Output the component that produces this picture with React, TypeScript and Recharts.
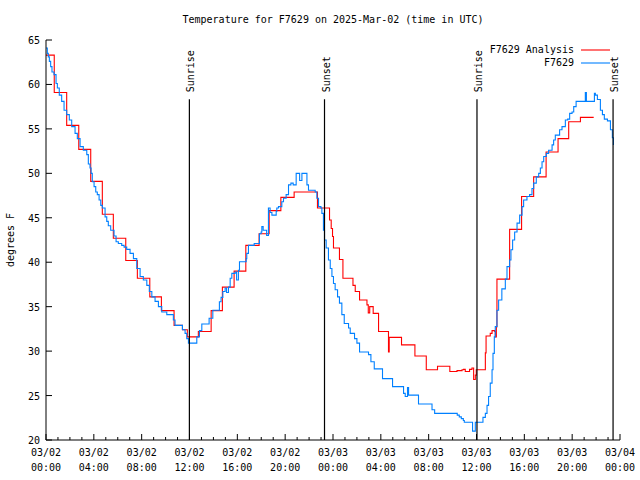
import React from "react";
import {
  LineChart, Line, XAxis, YAxis, ReferenceLine,
} from "recharts";

// hours since 03/02 00:00 UTC, temperature in F
const analysisHours = [
  0, 0.69, 1.73, 2.74, 3.74, 4.71, 5.63, 6.67, 7.64, 8.68, 9.65, 10.71, 11.41, 11.82,
  12.74, 13.81, 14.75, 15.73, 16.71, 17.82, 18.66, 19.64, 20.75, 22.7, 23.71, 23.85,
  23.96, 24.04, 24.54, 24.83, 25.67, 25.86, 26.22, 26.84, 26.95, 27.07, 27.36, 27.81,
  28.64, 28.7, 29.73, 30.85, 31.8, 32.74, 33.77, 34.37, 34.79, 34.92, 35.06, 35.42,
  35.62, 35.76, 35.9, 35.98, 36.74, 36.8, 37.15, 37.3, 37.52, 37.57, 37.66, 37.71,
  38.77, 39.77, 40.78, 41.82, 42.82, 43.71, 44.69, 45.8,
];
const analysisTemps = [
  63.3, 59.1, 55.4, 52.7, 49.1, 45.4, 42.7, 40.2, 38.2, 36.1, 34.55, 32.9, 32.4, 31.6,
  32.2, 34.55, 37.2, 39.0, 41.9, 43.2, 45.8, 47.3, 47.9, 46.1, 44.75, 43.8,
  42.9, 41.6, 40.3, 38.2, 37.4, 36.7, 35.75, 35.2, 34.3, 35.0, 34.25, 32.2,
  29.9, 31.55, 30.7, 29.45, 27.9, 28.3, 27.7, 27.8, 27.9, 27.95, 27.7, 27.95,
  28.1, 26.8, 27.3, 27.9, 29.8, 31.7, 32.0, 32.3, 32.2, 31.6, 32.75, 38.1,
  43.7, 47.4, 49.6, 52.4, 53.9, 55.8, 56.3, 56.3,
];

const obsHours = [
  0, 0.11, 0.19, 0.28, 0.39, 0.5, 0.67, 0.84, 0.95, 1.11, 1.31, 1.51, 1.73, 1.95, 2.15,
  2.43, 2.62, 2.85, 3.12, 3.41, 3.54, 3.68, 3.77, 3.87, 4.02, 4.16, 4.29, 4.44, 4.58,
  4.71, 4.94, 5.08, 5.21, 5.41, 5.69, 5.86, 6.05, 6.33, 6.53, 6.75, 7.03, 7.31, 7.59,
  7.87, 8.14, 8.43, 8.64, 8.85, 9.12, 9.4, 9.68, 10.1, 10.65, 10.79, 11.41, 11.63,
  11.77, 11.91, 12.61, 12.83, 13.03, 13.64, 13.95, 14.5, 14.64, 14.79, 14.98, 15.1,
  15.26, 15.4, 15.54, 15.82, 15.94, 16.09, 16.18, 16.74, 16.79, 16.93, 17.41, 17.85,
  17.99, 18.05, 18.16, 18.45, 18.6, 18.74, 18.89, 19.25, 19.3, 19.44, 19.72, 19.86,
  20.08, 20.28, 20.48, 20.67, 20.92, 21.21, 21.4, 21.82, 21.95, 22.51, 22.65, 22.79,
  22.99, 23.07, 23.2, 23.29, 23.43, 23.62, 23.77, 23.91, 24.04, 24.18, 24.38, 24.54,
  24.74, 24.94, 25.3, 25.44, 25.8, 26.0, 26.22, 26.97, 27.17, 27.45, 28.14, 28.98,
  29.9, 30.04, 30.23, 30.32, 31.15, 32.28, 32.5, 34.23, 34.39, 34.56, 34.73, 34.9,
  34.98, 35.67, 35.9, 36.54, 36.74, 36.88, 37.01, 37.15, 37.3, 37.38, 37.49, 37.57,
  37.71, 37.85, 38.12, 38.41, 38.55, 38.77, 38.88, 39.02, 39.19, 39.39, 39.61, 39.81,
  39.94, 40.22, 40.44, 40.64, 40.78, 41.0, 41.2, 41.34, 41.48, 41.62, 41.84, 42.03,
  42.32, 42.45, 42.59, 42.95, 43.15, 43.43, 43.62, 43.79, 43.99, 44.13, 44.33, 45.1,
  45.19, 45.86, 45.94, 46.11, 46.36, 46.53, 46.69, 46.95, 47.2, 47.36, 47.45,
];
const obsTemps = [
  64.1, 63.5, 63.1, 62.6, 62.0, 61.4, 61.1, 60.1, 59.6, 58.8, 58.1, 57.1, 56.6, 56.0, 55.25,
  54.5, 53.9, 53.0, 52.6, 52.1, 51.05, 50.6, 50.0, 49.06, 48.5, 47.9, 47.6, 47.0, 46.4,
  46.1, 45.1, 44.6, 44.1, 43.6, 42.95, 42.3, 42.1, 41.9, 41.7, 41.45, 41.0, 40.4, 39.3,
  38.4, 38.0, 37.4, 36.7, 36.1, 35.6, 35.0, 34.4, 34.1, 33.5, 32.9, 32.4, 32.0,
  31.4, 30.9, 31.6, 32.3, 33.05, 33.7, 34.6, 35.55, 36.05, 36.7, 37.1, 36.6,
  37.2, 38.2, 38.75, 38.9, 38.0, 39.1, 40.05, 40.4, 41.0, 41.9, 42.1, 43.2,
  43.4, 44.0, 43.6, 43.0, 46.1, 45.6, 45.3, 45.7, 46.1, 46.25, 46.8, 47.2,
  47.6, 48.7, 48.9, 48.7, 50.0, 49.2, 50.0, 48.7, 48.1, 47.9, 47.2, 46.25,
  46.1, 45.5, 43.6, 42.5, 41.6, 40.25, 39.3, 38.4, 37.6, 36.9, 36.1, 35.4,
  34.1, 33.1, 32.6, 32.0, 31.4, 30.9, 29.9, 29.6, 28.8, 28.0, 26.9, 26.0,
  25.25, 24.9, 25.9, 25.05, 24.05, 23.4, 23.0, 23.0, 22.8, 22.6, 22.4, 22.2,
  22.0, 21.0, 22.0, 22.55, 23.0, 23.9, 24.9, 26.4, 27.9, 29.75, 31.6, 32.75,
  34.6, 35.75, 37.0, 38.1, 39.5, 40.25, 41.4, 42.5, 43.4, 44.4, 45.3, 46.25,
  47.0, 47.4, 47.6, 48.3, 48.9, 49.6, 50.0, 50.6, 51.3, 51.9, 52.25, 52.6,
  53.2, 53.75, 54.3, 54.9, 55.25, 56.0, 56.1, 56.75, 56.9, 57.5, 58.1, 59.1,
  58.1, 59.0, 58.8, 58.3, 57.1, 56.6, 56.1, 55.9, 54.9, 54.0, 53.2,
];

const sunHours = [11.99, 23.29, 36.04, 47.42];
const sunNames = ["Sunrise", "Sunset", "Sunrise", "Sunset"];
const sunLineTop = 58.33;

const yTicks = [20, 25, 30, 35, 40, 45, 50, 55, 60, 65];
const hourTicks = Array.from({ length: 49 }, (_, i) => i);
const tickDates = ["03/02", "03/02", "03/02", "03/02", "03/02", "03/02", "03/03", "03/03", "03/03", "03/03", "03/03", "03/03", "03/04"];
const tickTimes = ["00:00", "04:00", "08:00", "12:00", "16:00", "20:00", "00:00", "04:00", "08:00", "12:00", "16:00", "20:00", "00:00"];

const seriesNames = ["F7629 Analysis", "F7629"];
const seriesColors = ["#ff0000", "#0080ff"];

const analysisData = analysisHours.map((h, i) => ({ h, temp: analysisTemps[i] }));
const obsData = obsHours.map((h, i) => ({ h, temp: obsTemps[i] }));

const FONT = "'DejaVu Sans Mono', monospace";

const BottomTick = (props: any) => {
  const { x, y, payload } = props;
  const v = payload.value;
  const major = v % 4 === 0;
  const k = v / 4;
  return (
    <g>
      <line x1={x} y1={y} x2={x} y2={y - (major ? 6 : 3)} stroke="#000" />
      {major && (
        <text x={x} y={y + 16} textAnchor="middle" fontFamily={FONT} fontSize={10} fill="#000">
          <tspan x={x}>{tickDates[k]}</tspan>
          <tspan x={x} dy={15}>{tickTimes[k]}</tspan>
        </text>
      )}
    </g>
  );
};

const TopTick = (props: any) => {
  const { x, y, payload } = props;
  const major = payload.value % 4 === 0;
  return <line x1={x} y1={y} x2={x} y2={y + (major ? 6 : 3)} stroke="#000" />;
};

const LeftTick = (props: any) => {
  const { x, y, payload } = props;
  return (
    <g>
      <line x1={x} y1={y} x2={x + 6} y2={y} stroke="#000" />
      <text x={x - 6} y={y + 4} textAnchor="end" fontFamily={FONT} fontSize={10} fill="#000">
        {payload.value}
      </text>
    </g>
  );
};

const RightTick = (props: any) => {
  const { x, y } = props;
  return <line x1={x} y1={y} x2={x - 6} y2={y} stroke="#000" />;
};

const SunLabel = (props: any) => {
  const { viewBox, text } = props;
  if (!viewBox) return null;
  const x = viewBox.x + 5;
  const y = viewBox.y - 7;
  return (
    <text x={x} y={y} transform={`rotate(-90 ${x} ${y})`} textAnchor="start" fontFamily={FONT} fontSize={10} fill="#000">
      {text}
    </text>
  );
};

export default function App() {
  return (
    <div style={{ position: "absolute", left: 0, top: 0, width: 640, height: 480, background: "#fff" }}>
      <LineChart width={640} height={480} margin={{ top: 40, right: 20, bottom: 0, left: 0 }}>
        <XAxis
          dataKey="h" type="number" domain={[0, 48]} ticks={hourTicks} interval={0}
          allowDataOverflow height={40} tickSize={0} tickMargin={0} tickLine={false}
          axisLine={{ stroke: "#000" }} tick={<BottomTick />}
        />
        <XAxis
          xAxisId="top" orientation="top" dataKey="h" type="number" domain={[0, 48]}
          ticks={hourTicks} interval={0} allowDataOverflow height={0} tickSize={0}
          tickMargin={0} tickLine={false} axisLine={{ stroke: "#000" }} tick={<TopTick />}
        />
        <YAxis
          type="number" domain={[20, 65]} ticks={yTicks} interval={0} allowDataOverflow
          width={46} tickSize={0} tickMargin={0} tickLine={false}
          axisLine={{ stroke: "#000" }} tick={<LeftTick />}
        />
        <YAxis
          yAxisId="right" orientation="right" type="number" domain={[20, 65]} ticks={yTicks}
          interval={0} allowDataOverflow width={0} tickSize={0} tickMargin={0} tickLine={false}
          axisLine={{ stroke: "#000" }} tick={<RightTick />}
        />
        <Line
          data={analysisData} dataKey="temp" type="stepAfter" stroke={seriesColors[0]}
          strokeWidth={1.1} dot={false} isAnimationActive={false}
        />
        <Line
          data={obsData} dataKey="temp" type="stepAfter" stroke={seriesColors[1]}
          strokeWidth={1.1} dot={false} isAnimationActive={false}
        />
        {sunHours.map((h, i) => (
          <ReferenceLine
            key={i}
            segment={[{ x: h, y: sunLineTop }, { x: h, y: 20 }]}
            stroke="#000"
            strokeWidth={1.2}
            label={<SunLabel text={sunNames[i]} />}
          />
        ))}
      </LineChart>
      <svg width={640} height={480} style={{ position: "absolute", left: 0, top: 0, pointerEvents: "none" }}>
        <text x={333} y={23} textAnchor="middle" fontFamily={FONT} fontSize={10} fill="#000">
          Temperature for F7629 on 2025-Mar-02 (time in UTC)
        </text>
        <text x={14} y={240} transform="rotate(-90 14 240)" textAnchor="middle" fontFamily={FONT} fontSize={10} fill="#000">
          degrees F
        </text>
        {seriesNames.map((name, i) => (
          <g key={name}>
            <text x={574} y={53 + i * 13} textAnchor="end" fontFamily={FONT} fontSize={10} fill="#000">
              {name}
            </text>
            <line x1={581} y1={50 + i * 13} x2={610} y2={50 + i * 13} stroke={seriesColors[i]} strokeWidth={1.1} />
          </g>
        ))}
      </svg>
    </div>
  );
}
